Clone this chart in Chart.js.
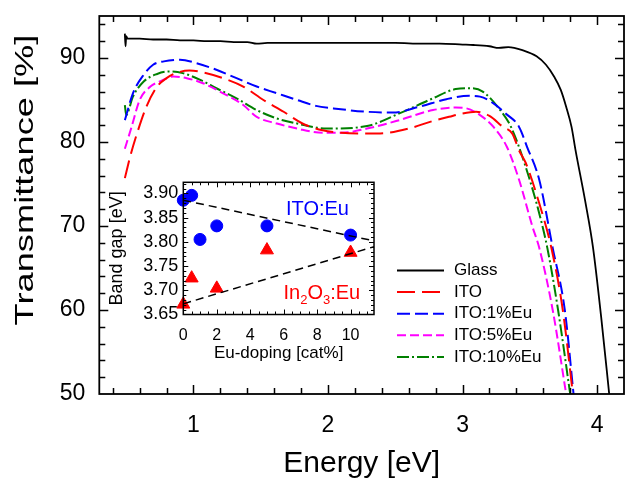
<!DOCTYPE html>
<html lang="en">
<head>
    <meta charset="UTF-8">
    <title>Transmittance vs Energy</title>
    <script src="https://cdn.jsdelivr.net/npm/chart.js"></script>
    <style>
        body { margin: 0; background: #fff; }
        #wrap { position: relative; width: 625px; height: 486px; }
        #main { position: absolute; left: 0; top: 0; }
        #inset { position: absolute; left: 100px; top: 170px; }
    </style>
</head>
<body>
<div id="wrap">
    <canvas id="main" width="625" height="486"></canvas>
    <canvas id="inset" width="290" height="200"></canvas>
</div>

<script>
    // Transmittance spectra (energy in eV, transmittance in %)
    const glassE = [0.49, 0.495, 0.50, 0.51, 0.6, 0.7, 0.8, 0.9, 1.0, 1.1, 1.2, 1.3, 1.4, 1.47, 1.55, 1.7, 1.9, 2.1, 2.3, 2.5, 2.7, 2.83, 3.0, 3.08, 3.2, 3.27, 3.34, 3.45, 3.55, 3.62, 3.68, 3.73, 3.77, 3.81, 3.84, 3.91, 3.97, 4.03, 4.09];
    const glassT = [92.9, 91.4, 92.6, 92.3, 92.3, 92.2, 92.2, 92.1, 92.1, 92.0, 92.0, 91.9, 91.9, 91.7, 91.8, 91.8, 91.8, 91.8, 91.8, 91.8, 91.7, 91.7, 91.6, 91.55, 91.4, 91.2, 91.3, 90.9, 90.2, 89.2, 87.8, 86.2, 84.2, 81.8, 79.0, 73.1, 67.4, 59.2, 50];

    const itoE = [0.49, 0.53, 0.58, 0.65, 0.73, 0.80, 0.87, 0.97, 1.07, 1.22, 1.37, 1.52, 1.67, 1.81, 1.96, 2.1, 2.29, 2.45, 2.6, 2.78, 2.9, 3.0, 3.1, 3.2, 3.3, 3.37, 3.42, 3.47, 3.57, 3.66, 3.745, 3.82];
    const itoT = [75.7, 78.3, 81.0, 84.2, 86.6, 87.6, 88.2, 88.5, 88.3, 87.6, 86.6, 85.0, 83.6, 82.2, 81.4, 81.1, 81.0, 81.1, 81.6, 82.5, 83.0, 83.4, 83.6, 83.1, 81.8, 81.0, 79.0, 77.5, 72.7, 67.4, 60, 50];

    const eu1E = [0.49, 0.55, 0.63, 0.70, 0.78, 0.90, 1.02, 1.17, 1.32, 1.47, 1.62, 1.77, 1.91, 2.04, 2.29, 2.48, 2.68, 2.88, 3.05, 3.13, 3.23, 3.32, 3.42, 3.48, 3.57, 3.67, 3.76, 3.825];
    const eu1T = [82.6, 85.8, 88.0, 89.2, 89.6, 89.8, 89.4, 88.6, 87.6, 86.6, 85.8, 85.0, 84.3, 84.0, 83.6, 83.5, 84.2, 85.1, 85.5, 85.4, 84.6, 83.4, 81.8, 79.4, 75.5, 67.4, 60, 50];

    const eu5E = [0.49, 0.54, 0.60, 0.68, 0.75, 0.85, 0.95, 1.07, 1.22, 1.37, 1.47, 1.62, 1.77, 1.96, 2.1, 2.29, 2.53, 2.78, 2.95, 3.03, 3.13, 3.23, 3.33, 3.42, 3.52, 3.57, 3.67, 3.77];
    const eu5T = [79.2, 81.8, 85.0, 86.6, 87.2, 87.8, 87.6, 87.0, 85.8, 84.4, 83.0, 82.2, 81.6, 81.1, 81.1, 81.6, 82.6, 83.8, 84.1, 84.0, 83.2, 81.8, 79.4, 75.5, 69.9, 67.4, 60, 50];

    const eu10E = [0.49, 0.50, 0.55, 0.63, 0.73, 0.82, 0.92, 1.05, 1.17, 1.32, 1.47, 1.62, 1.77, 1.99, 2.29, 2.53, 2.78, 2.95, 3.06, 3.15, 3.27, 3.36, 3.47, 3.57, 3.63, 3.71, 3.80];
    const eu10T = [84.4, 83.2, 85.4, 87.2, 88.1, 88.4, 88.2, 87.4, 86.4, 85.2, 83.8, 82.8, 82.2, 81.6, 81.9, 83.4, 85.2, 86.3, 86.4, 86.0, 84.0, 81.8, 77.0, 71.5, 67.4, 60, 50];

    const energyTicks = [1, 2, 3, 4];
    const transTicks = [50, 60, 70, 80, 90];

    // Inset: band gap vs Eu doping
    const dopingITO = [0, 0.5, 1, 2, 5, 10];
    const gapITO = [3.886, 3.896, 3.805, 3.833, 3.833, 3.814];
    const dopingIn = [0, 0.5, 2, 5, 10];
    const gapIn = [3.671, 3.725, 3.704, 3.783, 3.778];
    const fitX = [0, 11.4];
    const fitITO = [3.886, 3.802];
    const fitIn = [3.672, 3.790];

    const dopingTicks = [0, 2, 4, 6, 8, 10];
    const gapTicks = [3.65, 3.70, 3.75, 3.80, 3.85, 3.90];

    const FONT = '"Liberation Sans", Arial, sans-serif';

    function pts(xs, ys) {
        return xs.map((x, i) => ({ x: x, y: ys[i] }));
    }

    // fixed size for an axis box, no extra label padding
    function fixBox(prop, size) {
        return s => {
            s[prop] = size;
            s.paddingTop = 0; s.paddingBottom = 0;
            s.paddingLeft = 0; s.paddingRight = 0;
        };
    }

    // frame + inward ticks on all four sides
    function frameTicks(id, opts) {
        return {
            id: id,
            afterDatasetsDraw(chart) {
                const ctx = chart.ctx;
                const a = chart.chartArea;
                const xs = chart.scales.x, ys = chart.scales.y;
                ctx.save();
                ctx.strokeStyle = '#000';
                ctx.setLineDash([]);
                ctx.lineWidth = opts.lw;
                ctx.strokeRect(a.left, a.top, a.right - a.left, a.bottom - a.top);
                ctx.lineWidth = opts.tw;
                const nx = Math.round((xs.max - xs.min) / opts.xStep);
                const ny = Math.round((ys.max - ys.min) / opts.yStep);
                const x0 = Math.ceil(xs.min / opts.xStep - 1e-6);
                const y0 = Math.ceil(ys.min / opts.yStep - 1e-6);
                for (let i = x0; i <= x0 + nx; i++) {
                    const v = i * opts.xStep;
                    if (v <= xs.min + 1e-6 || v >= xs.max - 1e-6) continue;
                    const r = v / opts.xMajor;
                    const l = Math.abs(r - Math.round(r)) < 1e-6 ? opts.big : opts.small;
                    const px = Math.round(xs.getPixelForValue(v)) + 0.5;
                    ctx.beginPath();
                    ctx.moveTo(px, a.bottom); ctx.lineTo(px, a.bottom - l);
                    ctx.moveTo(px, a.top); ctx.lineTo(px, a.top + l);
                    ctx.stroke();
                }
                for (let i = y0; i <= y0 + ny; i++) {
                    const v = i * opts.yStep;
                    if (v <= ys.min + 1e-6 || v >= ys.max - 1e-6) continue;
                    const r = v / opts.yMajor;
                    const l = Math.abs(r - Math.round(r)) < 1e-6 ? opts.big : opts.small;
                    const py = Math.round(ys.getPixelForValue(v)) + 0.5;
                    ctx.beginPath();
                    ctx.moveTo(a.left, py); ctx.lineTo(a.left + l, py);
                    ctx.moveTo(a.right, py); ctx.lineTo(a.right - l, py);
                    ctx.stroke();
                }
                ctx.restore();
            }
        };
    }

    const mainLegend = {
        id: 'mainLegend',
        afterDraw(chart) {
            const ctx = chart.ctx;
            ctx.save();
            chart.data.datasets.forEach((ds, i) => {
                const y = 270.5 + i * 21.6;
                ctx.strokeStyle = ds.borderColor;
                ctx.lineWidth = ds.borderWidth;
                ctx.setLineDash(ds.borderDash || []);
                ctx.beginPath();
                ctx.moveTo(397, y);
                ctx.lineTo(444, y);
                ctx.stroke();
                ctx.setLineDash([]);
                ctx.fillStyle = '#000';
                ctx.font = '17px ' + FONT;
                ctx.textAlign = 'left';
                ctx.textBaseline = 'middle';
                ctx.fillText(ds.label, 454, y);
            });
            // y axis title, stretched along its length like the original
            ctx.translate(33, 180);
            ctx.rotate(-Math.PI / 2);
            ctx.scale(1.45, 1);
            ctx.font = '25px ' + FONT;
            ctx.textAlign = 'center';
            ctx.textBaseline = 'alphabetic';
            ctx.fillStyle = '#000';
            ctx.fillText('Transmittance [%]', 0, 0);
            ctx.restore();
        }
    };

    const series = [
        { label: 'Glass', e: glassE, t: glassT, color: '#000000', dash: [], w: 1.8 },
        { label: 'ITO', e: itoE, t: itoT, color: '#ff0000', dash: [18, 7], w: 2 },
        { label: 'ITO:1%Eu', e: eu1E, t: eu1T, color: '#0000ff', dash: [13, 5], w: 2 },
        { label: 'ITO:5%Eu', e: eu5E, t: eu5T, color: '#ff00ff', dash: [9, 4], w: 2 },
        { label: 'ITO:10%Eu', e: eu10E, t: eu10T, color: '#008000', dash: [12, 3, 2, 3], w: 2 }
    ];

    new Chart(document.getElementById('main'), {
        type: 'scatter',
        data: {
            datasets: series.map(s => ({
                label: s.label,
                data: pts(s.e, s.t),
                showLine: true,
                borderColor: s.color,
                backgroundColor: s.color,
                borderWidth: s.w,
                borderDash: s.dash,
                pointRadius: 0,
                cubicInterpolationMode: 'monotone'
            }))
        },
        options: {
            responsive: false,
            animation: false,
            layout: { padding: { top: 16, right: 1, left: 0, bottom: 0 } },
            plugins: { legend: { display: false }, tooltip: { enabled: false } },
            scales: {
                x: {
                    type: 'linear', min: 0.3, max: 4.2,
                    afterFit: fixBox('height', 92),
                    afterBuildTicks: s => { s.ticks = energyTicks.map(v => ({ value: v })); },
                    grid: { display: false, drawTicks: false },
                    border: { display: false },
                    ticks: { padding: 18, color: '#000', font: { family: FONT, size: 23 } },
                    title: { display: true, text: 'Energy [eV]', color: '#000', padding: { top: 0, bottom: 4 }, font: { family: FONT, size: 30 } }
                },
                y: {
                    type: 'linear', min: 50, max: 95,
                    afterFit: fixBox('width', 99.3),
                    afterBuildTicks: s => { s.ticks = transTicks.map(v => ({ value: v })); },
                    grid: { display: false, drawTicks: false },
                    border: { display: false },
                    ticks: { padding: 14, color: '#000', font: { family: FONT, size: 23 } }
                }
            }
        },
        plugins: [frameTicks('mainFrame', { xStep: 0.2, xMajor: 1, yStep: 2, yMajor: 10, big: 9, small: 6, lw: 1.8, tw: 1.5 }), mainLegend]
    });

    const insetLabels = {
        id: 'insetLabels',
        afterDraw(chart) {
            const ctx = chart.ctx;
            ctx.save();
            ctx.textBaseline = 'alphabetic';
            ctx.font = '20px ' + FONT;
            ctx.fillStyle = '#0000ff';
            ctx.textAlign = 'center';
            ctx.fillText('ITO:Eu', 217.5, 45);
            ctx.fillStyle = '#ff0000';
            ctx.textAlign = 'left';
            let x = 183.5;
            const base = 129;
            const parts = [['In', 0], ['2', 1], ['O', 0], ['3', 1], [':Eu', 0]];
            parts.forEach(([txt, sub]) => {
                ctx.font = (sub ? '13px ' : '20px ') + FONT;
                ctx.fillText(txt, x, sub ? base + 5 : base);
                x += ctx.measureText(txt).width;
            });
            ctx.restore();
        }
    };

    new Chart(document.getElementById('inset'), {
        type: 'scatter',
        data: {
            datasets: [
                { data: pts(fitX, fitITO), showLine: true, borderColor: '#000', borderWidth: 1.5, borderDash: [8, 5], pointRadius: 0, clip: false },
                { data: pts(fitX, fitIn), showLine: true, borderColor: '#000', borderWidth: 1.5, borderDash: [8, 5], pointRadius: 0, clip: false },
                { data: pts(dopingITO, gapITO), pointStyle: 'circle', pointRadius: 6, backgroundColor: '#0000ff', borderColor: '#0000ff', borderWidth: 1, clip: false },
                { data: pts(dopingIn, gapIn), pointStyle: 'triangle', pointRadius: 7.5, backgroundColor: '#ff0000', borderColor: '#ff0000', borderWidth: 1, clip: false }
            ]
        },
        options: {
            responsive: false,
            animation: false,
            layout: { padding: { top: 12.3, right: 16, left: 0, bottom: 0 } },
            plugins: { legend: { display: false }, tooltip: { enabled: false } },
            scales: {
                x: {
                    type: 'linear', min: 0, max: 11.4,
                    afterFit: fixBox('height', 55.5),
                    afterBuildTicks: s => { s.ticks = dopingTicks.map(v => ({ value: v })); },
                    grid: { display: false, drawTicks: false },
                    border: { display: false },
                    ticks: { padding: 11, color: '#000', font: { family: FONT, size: 16 } },
                    title: { display: true, text: 'Eu-doping [cat%]', color: '#000', padding: { top: 0, bottom: 6 }, font: { family: FONT, size: 17 } }
                },
                y: {
                    type: 'linear', min: 3.65, max: 3.923,
                    afterFit: fixBox('width', 83.3),
                    afterBuildTicks: s => { s.ticks = gapTicks.map(v => ({ value: v })); },
                    grid: { display: false, drawTicks: false },
                    border: { display: false },
                    ticks: { padding: 5, color: '#000', font: { family: FONT, size: 18 }, callback: v => v.toFixed(2) },
                    title: { display: true, text: 'Band gap [eV]', color: '#000', padding: { top: 6, bottom: 0 }, font: { family: FONT, size: 18 } }
                }
            }
        },
        plugins: [frameTicks('insetFrame', { xStep: 0.5, xMajor: 2, yStep: 0.01, yMajor: 0.05, big: 5, small: 3, lw: 1.5, tw: 1 }), insetLabels]
    });
</script>
</body>
</html>
